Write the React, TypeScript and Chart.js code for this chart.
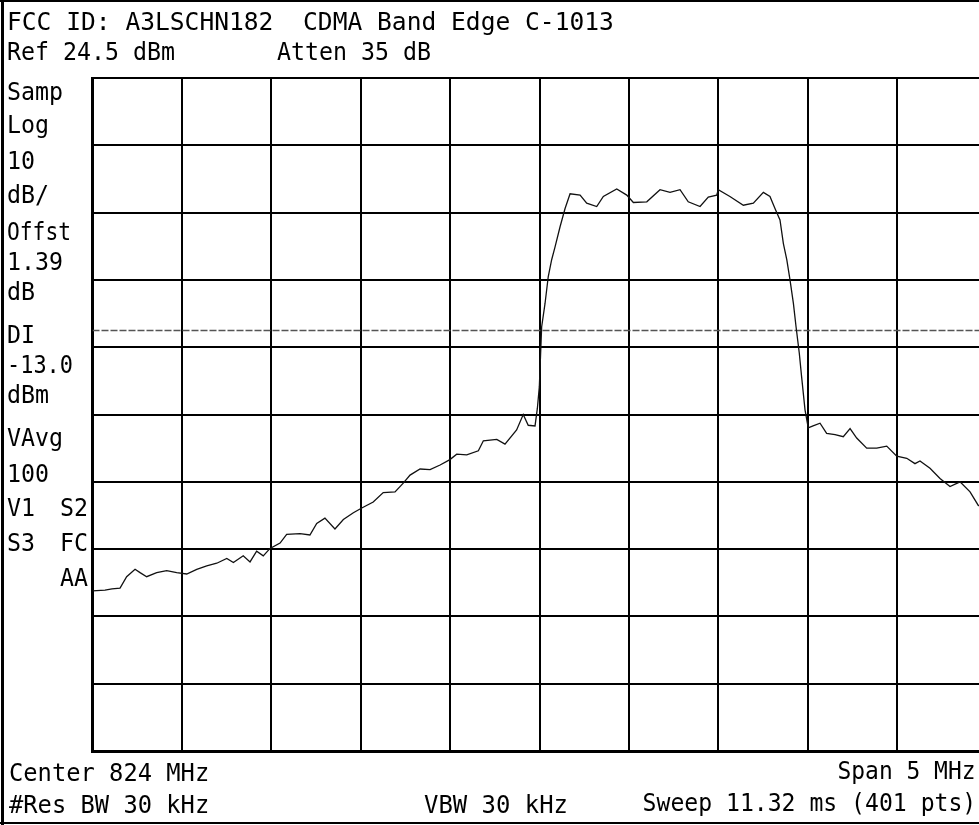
import React, { useEffect, useRef } from "react";
import { Chart, registerables } from "chart.js";

Chart.register(...registerables);

// ---- data ----
const FREQ_MHZ = [
  821.5, 821.57, 821.609, 821.654, 821.691, 821.738, 821.766, 821.803, 821.859, 821.915,
  821.971, 822.027, 822.083, 822.139, 822.195, 822.251, 822.288, 822.343, 822.381, 822.418,
  822.455, 822.493, 822.549, 822.586, 822.661, 822.716, 822.754, 822.8, 822.856, 822.903,
  822.959, 823.006, 823.07, 823.126, 823.192, 823.238, 823.276, 823.332, 823.388, 823.444,
  823.499, 823.537, 823.593, 823.658, 823.686, 823.761, 823.807, 823.872, 823.909, 823.937,
  823.975, 823.988, 823.999, 824.012, 824.031, 824.049, 824.068, 824.087, 824.115, 824.143,
  824.171, 824.227, 824.264, 824.32, 824.357, 824.432, 824.488, 824.525, 824.6, 824.674,
  824.73, 824.786, 824.832, 824.898, 824.944, 824.991, 825.0, 825.065, 825.14, 825.196,
  825.252, 825.289, 825.317, 825.345, 825.364, 825.383, 825.401, 825.42, 825.435, 825.453,
  825.466, 825.485, 825.503, 825.53, 825.569, 825.606, 825.653, 825.699, 825.737, 825.774,
  825.83, 825.886, 825.942, 825.998, 826.054, 826.1, 826.128, 826.184, 826.24, 826.296,
  826.352, 826.408, 826.454, 826.5,
];
const LEVEL_DBM = [
  -51.7, -51.6, -51.4, -51.3, -49.6, -48.5, -49.0, -49.6, -49.0, -48.7,
  -49.0, -49.2, -48.5, -48.0, -47.6, -46.9, -47.5, -46.5, -47.4, -45.8,
  -46.5, -45.4, -44.6, -43.3, -43.2, -43.4, -41.7, -40.9, -42.5, -41.1,
  -40.1, -39.4, -38.5, -37.1, -37.0, -35.7, -34.5, -33.6, -33.7, -33.0,
  -32.2, -31.4, -31.5, -30.9, -29.4, -29.2, -29.9, -27.8, -25.5, -27.1,
  -27.2, -24.6, -21.4, -12.5, -9.0, -5.0, -2.5, -0.6, 2.4, 5.1,
  7.3, 7.1, 5.9, 5.4, 6.9, 8.0, 7.1, 6.0, 6.1, 7.9,
  7.5, 7.9, 6.1, 5.4, 6.8, 7.1, 7.9, 6.9, 5.6, 5.9,
  7.5, 6.9, 5.1, 3.4, -0.1, -2.5, -5.5, -9.0, -12.5, -16.4,
  -19.9, -24.8, -27.5, -27.2, -26.8, -28.3, -28.5, -28.8, -27.6, -29.0,
  -30.5, -30.5, -30.2, -31.7, -32.0, -32.8, -32.4, -33.5, -35.0, -36.2,
  -35.5, -37.0, -39.0, -39.4,
];
const X_GRID_MHZ = [821.5, 822, 822.5, 823, 823.5, 824, 824.5, 825, 825.5, 826, 826.5];
const Y_GRID_DBM = [24.5, 14.5, 4.5, -5.5, -15.5, -25.5, -35.5, -45.5, -55.5, -65.5, -75.5];
const DISPLAY_LINE_DBM = [-13.0, -13.0];
const DISPLAY_LINE_MHZ = [821.5, 826.5];

const TITLE = "FCC ID: A3LSCHN182  CDMA Band Edge C-1013";
const REF_TEXT = "Ref 24.5 dBm";
const ATTEN_TEXT = "Atten 35 dB";
const SIDE_TEXT = ["Samp", "Log", "10", "dB/", "Offst", "1.39", "dB", "DI", "-13.0", "dBm", "VAvg", "100"];
const CENTER_TEXT = "Center 824 MHz";
const SPAN_TEXT = "Span 5 MHz";
const RBW_TEXT = "#Res BW 30 kHz";
const VBW_TEXT = "VBW 30 kHz";
const SWEEP_TEXT = "Sweep 11.32 ms (401 pts)";

// ---- layout ----
const PAGE_W = 979;
const PAGE_H = 825;
const CANVAS_W = 1000;
const FONT = 25;

type LabelProps = { text: string; x: number; base: number; cw?: number; right?: boolean };

function Label({ text, x, base, cw = 14, right = false }: LabelProps) {
  const sx = cw / (0.602 * FONT);
  const style: React.CSSProperties = {
    position: "absolute",
    top: base - 0.846 * FONT,
    fontFamily: "'DejaVu Sans Mono', monospace",
    fontSize: FONT,
    lineHeight: FONT + "px",
    whiteSpace: "pre",
    color: "#000",
    transform: `scaleX(${sx})`,
    transformOrigin: right ? "right top" : "left top",
  };
  if (right) style.right = PAGE_W - x;
  else style.left = x;
  return <span style={style}>{text}</span>;
}

export default function App() {
  const ref = useRef<HTMLCanvasElement | null>(null);

  useEffect(() => {
    if (!ref.current) return;
    const grid = { color: "#000", lineWidth: 2, drawTicks: false };
    const border = { display: true, color: "#000", width: 3 };
    const chart = new Chart(ref.current, {
      type: "line",
      data: {
        datasets: [
          {
            data: FREQ_MHZ.map((f, i) => ({ x: f, y: LEVEL_DBM[i] })),
            borderColor: "#111",
            borderWidth: 1.3,
            pointRadius: 0,
            tension: 0,
            order: 0,
          },
          {
            data: DISPLAY_LINE_MHZ.map((f, i) => ({ x: f, y: DISPLAY_LINE_DBM[i] })),
            borderColor: "#555",
            borderWidth: 1.5,
            borderDash: [7, 2],
            pointRadius: 0,
            order: 1,
          },
        ],
      },
      options: {
        animation: false,
        responsive: false,
        layout: { padding: { left: 92.5, right: CANVAS_W - 986.5, top: 78, bottom: PAGE_H - 751 } },
        plugins: { legend: { display: false }, tooltip: { enabled: false }, title: { display: false } },
        scales: {
          x: {
            type: "linear",
            min: X_GRID_MHZ[0],
            max: X_GRID_MHZ[X_GRID_MHZ.length - 1],
            afterBuildTicks: (axis: any) => {
              axis.ticks = X_GRID_MHZ.map((v) => ({ value: v }));
            },
            ticks: { display: false },
            grid,
            border,
          },
          y: {
            type: "linear",
            min: Y_GRID_DBM[Y_GRID_DBM.length - 1],
            max: Y_GRID_DBM[0],
            afterBuildTicks: (axis: any) => {
              axis.ticks = Y_GRID_DBM.map((v) => ({ value: v }));
            },
            ticks: { display: false },
            grid,
            border,
          },
        },
      },
    });
    return () => chart.destroy();
  }, []);

  return (
    <div
      style={{
        position: "fixed",
        left: 0,
        top: 0,
        width: PAGE_W,
        height: PAGE_H,
        overflow: "hidden",
        background: "#fff",
      }}
    >
      <canvas
        ref={ref}
        width={CANVAS_W}
        height={PAGE_H}
        style={{ position: "absolute", left: 0, top: 0, width: CANVAS_W, height: PAGE_H }}
      />
      {/* outer frame */}
      <div style={{ position: "absolute", left: 0, top: 0, width: PAGE_W, height: 2, background: "#000" }} />
      <div style={{ position: "absolute", left: 1, top: 0, width: 3, height: PAGE_H, background: "#000" }} />
      <div style={{ position: "absolute", left: 0, top: 822, width: PAGE_W, height: 2, background: "#000" }} />

      <Label text={TITLE} x={7} base={30.5} cw={14.8} />
      <Label text={REF_TEXT} x={7} base={60} cw={14.0} />
      <Label text={ATTEN_TEXT} x={277} base={60} cw={14.0} />

      <Label text={SIDE_TEXT[0]} x={7} base={100} />
      <Label text={SIDE_TEXT[1]} x={7} base={133} />
      <Label text={SIDE_TEXT[2]} x={7} base={169} />
      <Label text={SIDE_TEXT[3]} x={7} base={203} />
      <Label text={SIDE_TEXT[4]} x={7} base={240} cw={12.8} />
      <Label text={SIDE_TEXT[5]} x={7} base={270} />
      <Label text={SIDE_TEXT[6]} x={7} base={300} />
      <Label text={SIDE_TEXT[7]} x={7} base={343} />
      <Label text={SIDE_TEXT[8]} x={7} base={373} cw={13.2} />
      <Label text={SIDE_TEXT[9]} x={7} base={403} />
      <Label text={SIDE_TEXT[10]} x={7} base={446} />
      <Label text={SIDE_TEXT[11]} x={7} base={482} />
      <Label text="V1" x={7} base={516} />
      <Label text="S2" x={88} base={516} right />
      <Label text="S3" x={7} base={551} />
      <Label text="FC" x={88} base={551} right />
      <Label text="AA" x={88} base={586} right />

      <Label text={CENTER_TEXT} x={9} base={781} cw={14.3} />
      <Label text={SPAN_TEXT} x={976} base={779} cw={13.8} right />
      <Label text={RBW_TEXT} x={9} base={813} cw={14.3} />
      <Label text={VBW_TEXT} x={424} base={813} cw={14.4} />
      <Label text={SWEEP_TEXT} x={976} base={811} cw={13.9} right />
    </div>
  );
}
